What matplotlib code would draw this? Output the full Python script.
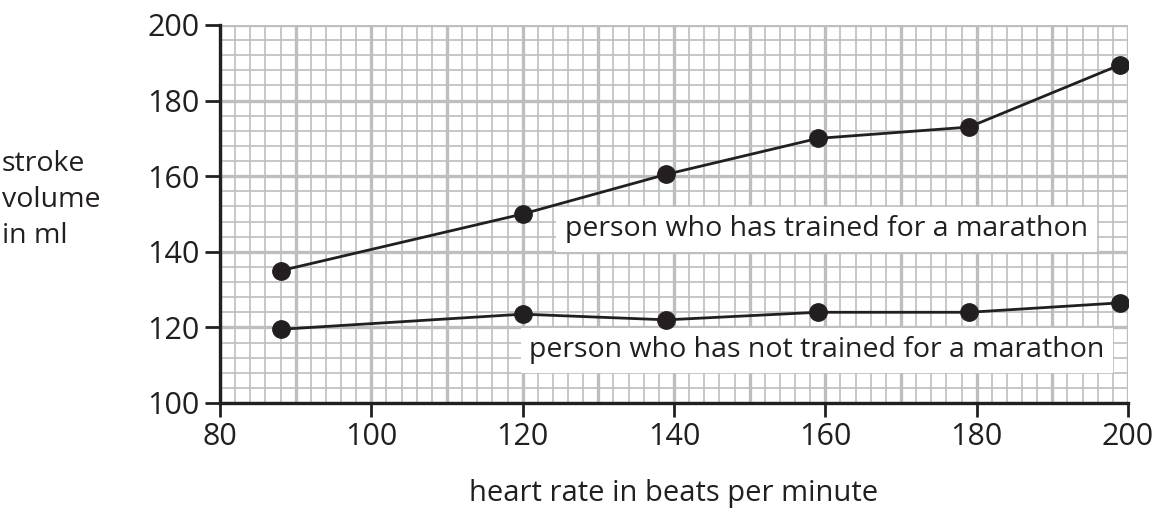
import matplotlib
matplotlib.use("Agg")
import matplotlib.pyplot as plt
import numpy as np

# Data
heart_rate = [88, 120, 139, 159, 179, 199]
trained = [135, 150, 160.5, 170, 173, 189.5]
untrained = [119.5, 123.5, 122, 124, 124, 126.5]
x_ticks = [80, 100, 120, 140, 160, 180, 200]
y_ticks = [100, 120, 140, 160, 180, 200]
label_trained = "person who has trained for a marathon"
label_untrained = "person who has not trained for a marathon"
x_label = "heart rate in beats per minute"
y_label = "stroke\nvolume\nin ml"

plt.rcParams['font.family'] = ['Open Sans', 'DejaVu Sans']
ink = '#231f20'
grid_c = '#bcbec0'

fig = plt.figure(figsize=(11.6, 5.18), dpi=100)
ax = fig.add_axes([220/1160, 1-403/518, (1128-220)/1160, (403-25)/518])
ax.set_xlim(80, 200)
ax.set_ylim(100, 200)

# grid
for xv in np.arange(80, 201, 2):
    major = (xv % 10 == 0)
    ax.axvline(xv, color=grid_c, lw=2.4 if major else 1.2, zorder=0)
for yv in np.arange(100, 201, 4):
    major = (yv % 20 == 0)
    ax.axhline(yv, color=grid_c, lw=2.4 if major else 1.2, zorder=0)

ax.plot(heart_rate, trained, color=ink, lw=2.0, marker='o', ms=12.5, zorder=3)
ax.plot(heart_rate, untrained, color=ink, lw=2.0, marker='o', ms=12.5, zorder=3)

fs = 20.5
bb = dict(facecolor='white', edgecolor='none', boxstyle='square,pad=0.3')
ax.text(125.6, 146, label_trained, fontsize=fs, color=ink, ha='left', va='center', bbox=bb, zorder=2)
ax.text(120.9, 114, label_untrained, fontsize=fs, color=ink, ha='left', va='center', bbox=bb, zorder=2)

ax.set_xticks(x_ticks)
ax.set_yticks(y_ticks)
ax.tick_params(which='minor', length=0)
ax.tick_params(axis='both', which='major', direction='out', width=2, color=ink,
               labelsize=22, labelcolor=ink)
ax.tick_params(axis='y', length=11, pad=4)
ax.tick_params(axis='x', length=10, pad=4)
for s in ['top', 'right']:
    ax.spines[s].set_visible(False)
for s in ['left', 'bottom']:
    ax.spines[s].set_linewidth(2.4)
    ax.spines[s].set_color(ink)
    ax.spines[s].set_zorder(4)

fig.text(2/1160, 1-200/518, y_label, fontsize=fs, color=ink, ha='left', va='center', linespacing=1.38)
fig.text(674/1160, 1-493/518, x_label, fontsize=21, color=ink, ha='center', va='center')

fig.savefig('out.png', dpi=100)
